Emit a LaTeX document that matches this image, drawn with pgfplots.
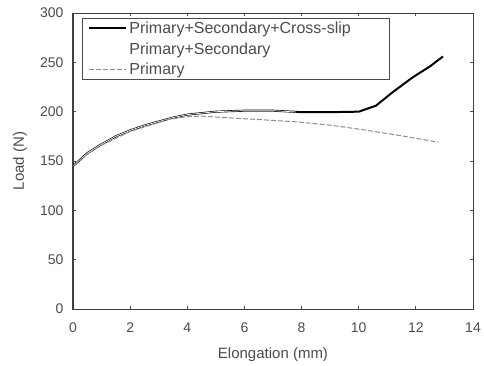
\documentclass[border=0pt]{standalone}
\usepackage{fontspec}
\setmainfont{Liberation Sans}
\usepackage{pgfplots}
\pgfplotsset{compat=1.18}
\begin{document}
\begin{tikzpicture}
\useasboundingbox (-73pt,-56pt) rectangle (411pt,309pt);
\begin{axis}[
  at={(0,0)}, anchor=south west,
  scale only axis, width=400pt, height=296pt,
  xmin=0, xmax=14, ymin=0, ymax=300,
  xtick={0,2,...,14}, ytick={0,50,...,300},
  tick align=inside, major tick length=3pt,
  tick style={black!70, line width=0.8pt},
  axis line style={black!75, line width=1pt},
  /pgf/number format/assume math mode=true,
  tick label style={font=\fontsize{14}{16}\selectfont, text=black!70},
  xticklabel style={yshift=-10pt},
  yticklabel style={xshift=-6pt},
  xlabel={Elongation (mm)}, ylabel={Load (N)},
  label style={font=\fontsize{15}{17}\selectfont, text=black!70},
  xlabel style={at={(axis description cs:0.5,0)}, anchor=center, yshift=-46pt},
  ylabel style={at={(axis description cs:0,0.5)}, anchor=center, yshift=53pt},
  legend cell align=left,
  legend image code/.code={\draw[#1] plot coordinates {(3pt,0pt) (40pt,0pt)};},
  legend style={at={(0.0225,0.983)}, anchor=north west, draw=black!70, line width=0.8pt,
    font=\fontsize{16}{18}\selectfont, text=black!70, inner xsep=6pt, inner ysep=1.5pt,
    row sep=3.5pt, text width=252pt},
]
\addplot[black, line width=2pt] coordinates {
(0,145) (0.2,150) (0.5,158) (1,167) (1.5,175) (2,181) (2.5,186) (3,190) (3.5,194) (4,197)
(5,200) (6,201) (7,201) (8,199.5) (9,199.5) (10,200) (10.6,206) (11.2,220) (11.9,235) (12.5,246) (12.95,256)};
\addlegendentry{Primary+Secondary+Cross-slip}
\addplot[white, line width=0.7pt] coordinates {
(0,145) (0.2,150) (0.5,158) (1,167) (1.5,175) (2,181) (2.5,186) (3,190) (3.5,194) (4,197)
(5,200) (6,201) (7,201) (7.8,199.7)};
\addlegendentry{Primary+Secondary}
\addplot[black!45, line width=1pt, dash pattern=on 5pt off 2pt] coordinates {
(0,145) (0.5,157) (1,166) (2,180) (3,189) (3.3,192) (4,195) (4.5,195.5) (5.6,193.5) (6.8,191.5) (7.9,189.5) (9.1,186) (10.2,181.5) (11.4,176) (12.8,169)};
\addlegendentry{Primary}
\end{axis}
\end{tikzpicture}
\end{document}
